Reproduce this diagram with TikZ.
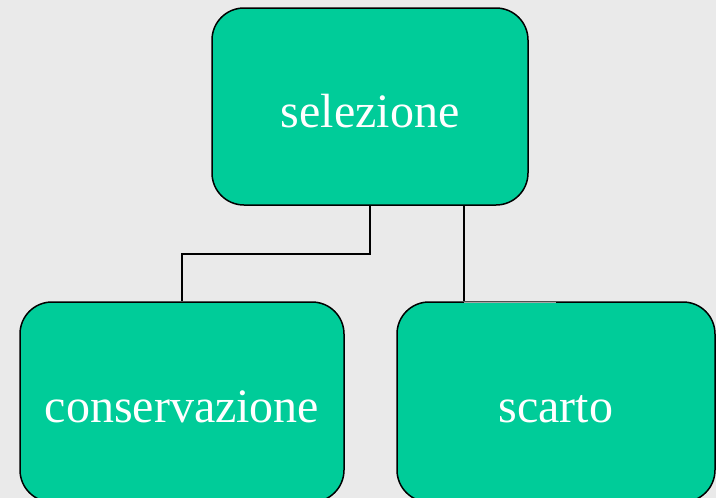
\documentclass[tikz,border=0pt]{standalone}
\usepackage{fontspec}
\setmainfont{Liberation Serif}
\definecolor{bg}{HTML}{EAEAEA}
\definecolor{boxfill}{HTML}{00CC99}
\tikzset{
  box/.style={draw=black, line width=1.5pt, fill=boxfill, rounded corners=32pt,
    inner sep=0pt, text=white, font=\fontsize{48}{48}\selectfont,
    text height=42pt, text depth=0pt},
  conn/.style={draw=black, line width=1.5pt},
}
\begin{document}
\begin{tikzpicture}[x=1pt,y=-1pt]
\fill[bg] (0,0) rectangle (716,498);
\useasboundingbox (0,0) rectangle (716,498);
\begin{scope}
\clip (0,0) rectangle (716,498);
\node[box, minimum width=316pt, minimum height=197pt] (sel) at (370,106.5) {selezione};
\node[box, minimum width=324pt, minimum height=200pt, text height=40pt] (cons) at (182,402) {conservazione};
\node[box, minimum width=318pt, minimum height=200pt, text height=40pt] (scarto) at (556,402) {scarto};
\draw[conn] (sel.south) -- ++(0,48) -| (cons.north);
\coordinate (s2) at ([xshift=94pt]sel.south);
\draw[conn] (s2) -- (s2 |- scarto.north);
\draw[gray!70, line width=1pt] ([yshift=-1.2pt]s2 |- scarto.north) -- ([yshift=-1.2pt]scarto.north);
\end{scope}
\end{tikzpicture}
\end{document}
